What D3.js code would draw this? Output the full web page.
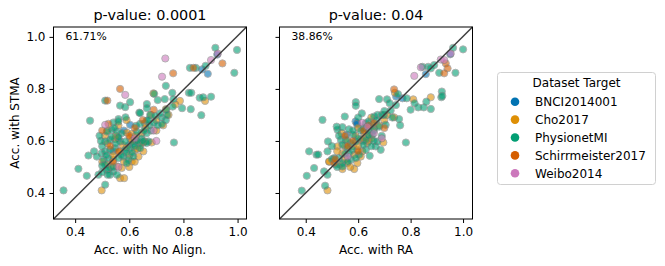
<!DOCTYPE html>
<html><head><meta charset="utf-8">
<script src="https://cdn.jsdelivr.net/npm/d3@7"></script>
<style>body{margin:0;background:#fff}svg{display:block}text{font-family:"DejaVu Sans",sans-serif;fill:#000}</style>
</head><body><svg id="c" width="665" height="266"></svg>
<script>
const datasets = ["BNCI2014001","Cho2017","PhysionetMI","Schirrmeister2017","Weibo2014"];
const colors = ["#0173b2","#de8f05","#029e73","#d55e00","#cc78bc"];
const ticks = [0.4,0.6,0.8,1.0];
const titles = ["p-value: 0.0001","p-value: 0.04"];
const xLabels = ["Acc. with No Align.","Acc. with RA"];
const yLabel = "Acc. with STMA";
const percents = ["61.71%","38.86%"];

// Left panel: [x = No Align. accuracy, y = STMA accuracy]
const noAlignBNCI = [[0.925,0.932],[0.890,0.858],[0.869,0.875],[0.603,0.662],[0.560,0.610],[0.580,0.640],[0.600,0.585],[0.540,0.560],[0.620,0.600]];
const noAlignCho = [[0.689,0.783],[0.880,0.754],[0.787,0.754],[0.735,0.722],[0.658,0.668],[0.591,0.632],[0.609,0.627],[0.646,0.630],[0.548,0.607],[0.603,0.611],[0.621,0.604],[0.658,0.598],[0.566,0.560],[0.621,0.566],[0.652,0.560],[0.541,0.528],[0.634,0.540],[0.554,0.502],[0.572,0.496],[0.609,0.521],[0.566,0.457],[0.581,0.457],[0.498,0.410],[0.683,0.594],[0.652,0.594],[0.520,0.590],[0.575,0.585],[0.600,0.545],[0.625,0.620],[0.660,0.650],[0.700,0.680],[0.500,0.520],[0.520,0.510],[0.590,0.575],[0.640,0.585],[0.610,0.600],[0.745,0.700],[0.530,0.500],[0.725,0.660],[0.770,0.740],[0.520,0.640],[0.560,0.660],[0.590,0.680],[0.540,0.545],[0.600,0.500],[0.630,0.570],[0.680,0.700],[0.580,0.520],[0.550,0.620],[0.700,0.640],[0.620,0.520],[0.510,0.620]];
const noAlignPhysionet = [[0.918,0.958],[0.998,0.950],[0.988,0.862],[0.824,0.881],[0.846,0.881],[0.882,0.889],[0.735,0.812],[0.692,0.781],[0.759,0.785],[0.820,0.785],[0.829,0.785],[0.860,0.766],[0.873,0.768],[0.902,0.770],[0.731,0.761],[0.705,0.757],[0.665,0.742],[0.795,0.726],[0.827,0.722],[0.866,0.699],[0.763,0.760],[0.737,0.720],[0.511,0.755],[0.566,0.736],[0.585,0.730],[0.603,0.749],[0.637,0.709],[0.665,0.726],[0.586,0.691],[0.455,0.678],[0.560,0.684],[0.765,0.594],[0.541,0.671],[0.560,0.675],[0.625,0.658],[0.640,0.666],[0.664,0.678],[0.640,0.707],[0.677,0.700],[0.517,0.636],[0.535,0.643],[0.554,0.636],[0.572,0.630],[0.628,0.636],[0.664,0.630],[0.671,0.598],[0.511,0.598],[0.529,0.604],[0.566,0.598],[0.585,0.598],[0.640,0.592],[0.498,0.553],[0.511,0.560],[0.529,0.566],[0.548,0.572],[0.585,0.566],[0.603,0.572],[0.640,0.572],[0.664,0.592],[0.505,0.528],[0.523,0.534],[0.560,0.534],[0.578,0.540],[0.597,0.528],[0.615,0.540],[0.449,0.544],[0.412,0.493],[0.443,0.466],[0.486,0.470],[0.511,0.509],[0.523,0.492],[0.541,0.483],[0.591,0.515],[0.517,0.489],[0.529,0.470],[0.511,0.432],[0.357,0.410],[0.500,0.580],[0.495,0.600],[0.535,0.615],[0.545,0.650],[0.560,0.615],[0.590,0.555],[0.615,0.590],[0.645,0.610],[0.675,0.660],[0.690,0.670],[0.705,0.660],[0.500,0.505],[0.480,0.540],[0.470,0.560],[0.490,0.620],[0.515,0.545],[0.550,0.590],[0.570,0.545],[0.610,0.555],[0.620,0.580],[0.650,0.600],[0.630,0.600],[0.655,0.640],[0.680,0.640],[0.720,0.690],[0.735,0.680],[0.760,0.732],[0.714,0.706],[0.695,0.696],[0.555,0.470],[0.540,0.500],[0.520,0.470],[0.500,0.480],[0.720,0.665],[0.740,0.700],[0.670,0.680]];
const noAlignSchirrmeister = [[0.944,0.898],[0.837,0.881],[0.762,0.860],[0.566,0.800],[0.519,0.755],[0.523,0.666],[0.530,0.580],[0.560,0.560],[0.540,0.520],[0.500,0.640],[0.620,0.650],[0.690,0.720],[0.600,0.620],[0.650,0.680]];
const noAlignWeibo = [[0.927,0.936],[0.902,0.911],[0.733,0.917],[0.721,0.847],[0.585,0.777],[0.511,0.662],[0.690,0.640],[0.700,0.600],[0.560,0.500],[0.620,0.610]];

// Right panel: [x = RA accuracy, y = STMA accuracy]
const raBNCI = [[0.951,0.933],[0.858,0.857],[0.745,0.770],[0.769,0.764],[0.597,0.668],[0.590,0.675],[0.556,0.624],[0.595,0.665],[0.620,0.600]];
const raCho = [[0.740,0.785],[0.810,0.760],[0.877,0.768],[0.696,0.594],[0.483,0.410],[0.490,0.520],[0.537,0.630],[0.642,0.624],[0.623,0.630],[0.610,0.604],[0.635,0.592],[0.521,0.579],[0.597,0.566],[0.616,0.560],[0.585,0.547],[0.540,0.553],[0.489,0.521],[0.559,0.515],[0.597,0.515],[0.540,0.492],[0.585,0.492],[0.737,0.691],[0.660,0.650],[0.700,0.680],[0.620,0.610],[0.580,0.580],[0.560,0.600],[0.640,0.600],[0.600,0.580],[0.680,0.660],[0.520,0.560],[0.550,0.530],[0.610,0.540],[0.570,0.500],[0.630,0.650],[0.710,0.700],[0.590,0.620],[0.650,0.610],[0.530,0.510],[0.650,0.690],[0.600,0.650],[0.550,0.580]];
const raPhysionet = [[0.962,0.958],[1.000,0.952],[0.971,0.862],[0.909,0.862],[0.890,0.892],[0.867,0.885],[0.845,0.885],[0.877,0.879],[0.752,0.780],[0.680,0.761],[0.710,0.760],[0.720,0.745],[0.785,0.764],[0.815,0.745],[0.829,0.729],[0.850,0.729],[0.860,0.751],[0.877,0.723],[0.919,0.790],[0.917,0.768],[0.921,0.773],[0.591,0.749],[0.591,0.735],[0.614,0.706],[0.549,0.694],[0.464,0.681],[0.661,0.694],[0.724,0.717],[0.756,0.684],[0.782,0.594],[0.485,0.598],[0.413,0.560],[0.441,0.547],[0.448,0.548],[0.432,0.496],[0.404,0.466],[0.385,0.409],[0.474,0.428],[0.540,0.653],[0.565,0.645],[0.581,0.624],[0.629,0.668],[0.654,0.662],[0.674,0.700],[0.680,0.655],[0.705,0.662],[0.699,0.700],[0.744,0.738],[0.674,0.598],[0.686,0.566],[0.667,0.579],[0.654,0.624],[0.629,0.604],[0.591,0.598],[0.572,0.592],[0.553,0.604],[0.534,0.604],[0.540,0.585],[0.559,0.572],[0.578,0.566],[0.629,0.566],[0.644,0.543],[0.604,0.547],[0.565,0.553],[0.527,0.534],[0.508,0.534],[0.515,0.509],[0.540,0.515],[0.572,0.528],[0.591,0.534],[0.483,0.560],[0.470,0.483],[0.483,0.470],[0.540,0.502],[0.521,0.643],[0.518,0.655],[0.527,0.620],[0.620,0.650],[0.640,0.675],[0.670,0.680],[0.690,0.700],[0.700,0.715],[0.660,0.600],[0.640,0.620],[0.500,0.530],[0.520,0.500],[0.610,0.640],[0.600,0.610],[0.620,0.585],[0.560,0.520],[0.760,0.660],[0.730,0.690],[0.800,0.720],[0.640,0.640],[0.580,0.640],[0.660,0.640],[0.690,0.620],[0.600,0.690],[0.550,0.550],[0.500,0.580],[0.650,0.580]];
const raSchirrmeister = [[0.737,0.798],[0.934,0.898],[0.941,0.879],[0.928,0.860],[0.508,0.515],[0.512,0.530],[0.620,0.640],[0.660,0.670],[0.580,0.600],[0.550,0.620],[0.700,0.650],[0.640,0.660],[0.600,0.560],[0.560,0.580]];
const raWeibo = [[0.953,0.936],[0.915,0.913],[0.928,0.911],[0.839,0.883],[0.814,0.850],[0.615,0.670],[0.635,0.655],[0.660,0.630],[0.690,0.610],[0.560,0.540]];

const panels = [
  {series:[noAlignBNCI,noAlignCho,noAlignPhysionet,noAlignSchirrmeister,noAlignWeibo], xDom:[0.32,1.033], left:53.5, showY:true},
  {series:[raBNCI,raCho,raPhysionet,raSchirrmeister,raWeibo], xDom:[0.30,1.036], left:279.5, showY:false}
];
const PW = 193, PT = 27, PH = 192;
const svg = d3.select("#c");

panels.forEach((p, i) => {
  const x = d3.scaleLinear().domain(p.xDom).range([p.left, p.left + PW]);
  const y = d3.scaleLinear().domain([0.30, 1.038]).range([PT + PH, PT]);
  const g = svg.append("g");
  p.series.forEach((pts, k) => {
    g.append("g").selectAll("circle").data(pts).join("circle")
      .attr("cx", d => x(d[0])).attr("cy", d => y(d[1])).attr("r", 3.6)
      .attr("fill", colors[k]).attr("stroke", "#7a7a7a").attr("stroke-width", 0.9)
      .attr("opacity", 0.6);
  });
  g.append("line").attr("x1", p.left).attr("y1", PT + PH).attr("x2", p.left + PW).attr("y2", PT)
    .attr("stroke", "#3f3f3f").attr("stroke-width", 1.5);
  const xa = g.append("g").attr("transform", `translate(0,${PT + PH})`)
    .call(d3.axisBottom(x).tickValues(ticks).tickFormat(d3.format(".1f")).tickSize(4).tickPadding(4));
  const ya = g.append("g").attr("transform", `translate(${p.left},0)`)
    .call(d3.axisLeft(y).tickValues(ticks).tickFormat(p.showY ? d3.format(".1f") : "").tickSize(4).tickPadding(4));
  [xa, ya].forEach(a => {
    a.select(".domain").remove();
    a.selectAll("text").attr("font-size", 12).attr("font-family", "DejaVu Sans").attr("fill", "#000");
    a.selectAll("line").attr("stroke", "#000").attr("stroke-width", 1);
  });
  g.append("rect").attr("x", p.left).attr("y", PT).attr("width", PW).attr("height", PH)
    .attr("fill", "none").attr("stroke", "#000").attr("stroke-width", 1);
  g.append("text").attr("x", p.left + PW / 2).attr("y", 19.5).attr("text-anchor", "middle")
    .attr("font-size", 14.4).text(titles[i]);
  g.append("text").attr("x", p.left + PW / 2).attr("y", 254).attr("text-anchor", "middle")
    .attr("font-size", 12).text(xLabels[i]);
  g.append("text").attr("x", p.left + 12).attr("y", 40).attr("font-size", 10.8).text(percents[i]);
  if (p.showY) {
    g.append("text").attr("transform", `translate(19,${PT + PH / 2}) rotate(-90)`)
      .attr("text-anchor", "middle").attr("font-size", 12).text(yLabel);
  }
});

const lg = svg.append("g");
lg.append("rect").attr("x", 497.5).attr("y", 72.5).attr("width", 158).attr("height", 112).attr("rx", 3)
  .attr("fill", "#fff").attr("stroke", "#d0d0d0").attr("stroke-width", 1);
lg.append("text").attr("x", 576.5).attr("y", 87).attr("text-anchor", "middle").attr("font-size", 12).text("Dataset Target");
const ly = d3.scalePoint().domain(datasets).range([101.7, 173.3]);
datasets.forEach((d, k) => {
  lg.append("circle").attr("cx", 515).attr("cy", ly(d)).attr("r", 4.3).attr("fill", colors[k]);
  lg.append("text").attr("x", 535).attr("y", ly(d) + 4.3).attr("font-size", 12).text(d);
});
</script></body></html>
